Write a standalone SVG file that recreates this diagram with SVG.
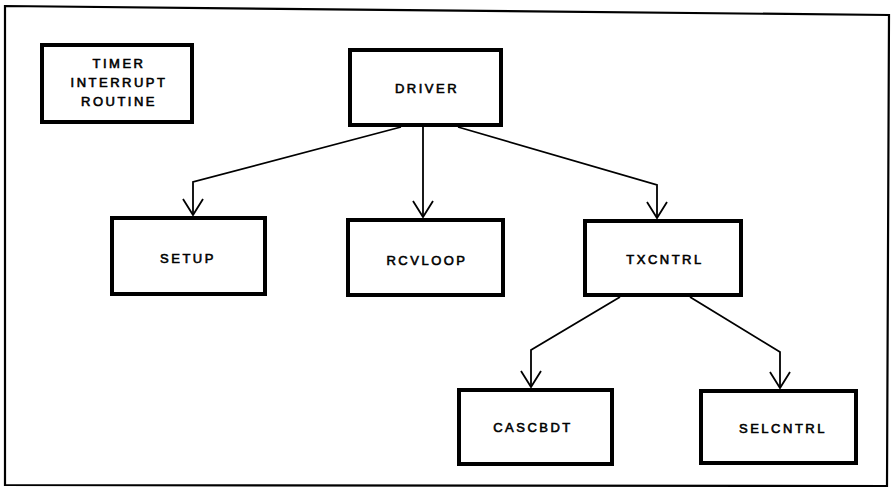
<svg xmlns="http://www.w3.org/2000/svg" width="892" height="495" viewBox="0 0 892 495">
  <style>
    .box { fill: #fff; stroke: #000; stroke-width: 4; }
    .lbl { font-family: "Liberation Sans", Arial, sans-serif; font-size: 13px; font-weight: normal; letter-spacing: 2.5px; text-anchor: middle; fill: #000; stroke: #000; stroke-width: 0.6; }
    .edge { fill: none; stroke: #000; stroke-width: 1.8; marker-end: url(#vee); }
    .frame { fill: none; stroke: #000; stroke-width: 2.2; }
  </style>
  <defs>
    <!-- open V arrowhead -->
    <marker id="vee" markerUnits="userSpaceOnUse" markerWidth="40" markerHeight="40" orient="auto" refX="0" refY="0" viewBox="-20 -20 40 40" overflow="visible">
      <path d="M -16 -10 L 0 0 L -16 10" fill="none" stroke="#000" stroke-width="1.8"/>
    </marker>
  </defs>

  <rect width="892" height="495" fill="#fff"/>

  <!-- outer frame -->
  <path class="frame" d="M 5 6 L 889 15 L 887 486 L 5 485 Z"/>

  <!-- connectors -->
  <g id="connectors">
    <path class="edge" d="M 401 127 L 193 182 L 193 215"/>
    <path class="edge" d="M 423 127 L 423 217"/>
    <path class="edge" d="M 458 127 L 657 185 L 657 218"/>
    <path class="edge" d="M 620 297 L 531 350 L 531 387"/>
    <path class="edge" d="M 690 297 L 780 352 L 780 388"/>
  </g>

  <g id="timer">
    <rect class="box" x="42" y="45" width="150" height="77"/>
    <text class="lbl" x="119" y="68">TIMER</text>
    <text class="lbl" x="119" y="87">INTERRUPT</text>
    <text class="lbl" x="119" y="106">ROUTINE</text>
  </g>

  <g id="driver">
    <rect class="box" x="350" y="50" width="151" height="75"/>
    <text class="lbl" x="427" y="93">DRIVER</text>
  </g>

  <g id="setup">
    <rect class="box" x="112" y="218" width="153" height="76"/>
    <text class="lbl" x="188" y="263">SETUP</text>
  </g>

  <g id="rcvloop">
    <rect class="box" x="348" y="220" width="155" height="75"/>
    <text class="lbl" x="427" y="265">RCVLOOP</text>
  </g>

  <g id="txcntrl">
    <rect class="box" x="585" y="221" width="156" height="74"/>
    <text class="lbl" x="665" y="264">TXCNTRL</text>
  </g>

  <g id="cascbdt">
    <rect class="box" x="459" y="390" width="153" height="74"/>
    <text class="lbl" x="533" y="432">CASCBDT</text>
  </g>

  <g id="selcntrl">
    <rect class="box" x="701" y="391" width="155" height="72"/>
    <text class="lbl" x="783" y="433">SELCNTRL</text>
  </g>
</svg>
